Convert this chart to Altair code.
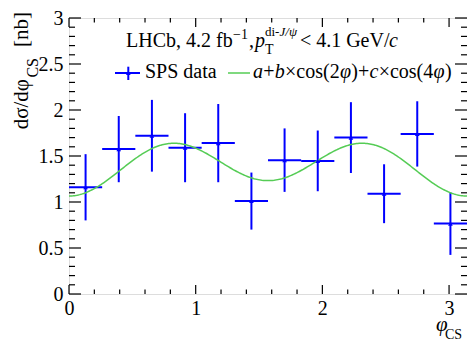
import math
import numpy as np
import pandas as pd
import altair as alt

FONT = "Liberation Serif"
PL, PT = 69, 18          # page position of the plot area's top-left corner
W, H = 398, 276

# ---- data ----
bin_lo = [0.0, 0.2618, 0.5236, 0.7854, 1.0472, 1.3090, 1.5708, 1.8326, 2.0944, 2.3562, 2.6180, 2.8798]
bin_hi = [0.2618, 0.5236, 0.7854, 1.0472, 1.3090, 1.5708, 1.8326, 2.0944, 2.3562, 2.6180, 2.8798, 3.1416]
sps_val = [1.16, 1.575, 1.72, 1.59, 1.64, 1.01, 1.455, 1.447, 1.70, 1.09, 1.74, 0.765]
sps_err = [0.36, 0.36, 0.39, 0.375, 0.425, 0.31, 0.345, 0.33, 0.385, 0.32, 0.355, 0.34]

# fit a + b cos(2phi) + c cos(4phi)
fit_a, fit_b, fit_c = 1.392, -0.0835, -0.243

x_labels = [0, 1, 2, 3]
x_minor = [0.2, 0.4, 0.6, 0.8, 1.2, 1.4, 1.6, 1.8, 2.2, 2.4, 2.6, 2.8]
y_labels = [0, 0.5, 1, 1.5, 2, 2.5, 3]
y_minor = [round(0.1 * i, 1) for i in range(31)]
y_minor = [v for v in y_minor if v not in y_labels]

df = pd.DataFrame({"lo": bin_lo, "hi": bin_hi, "val": sps_val, "err": sps_err})
df["ctr"] = (df["lo"] + df["hi"]) / 2
df["ylo"] = df["val"] - df["err"]
df["yhi"] = df["val"] + df["err"]

phi = np.linspace(0, math.pi, 300)
curve = pd.DataFrame({"phi": phi,
                      "f": fit_a + fit_b * np.cos(2 * phi) + fit_c * np.cos(4 * phi)})

xsc = alt.Scale(domain=[0, math.pi], nice=False, zero=False)
ysc = alt.Scale(domain=[0, 3], nice=False, zero=False)

AX_X = alt.Axis(values=x_labels, ticks=False, domain=False, grid=False,
                labelFont=FONT, labelFontSize=20, labelPadding=4,
                labelColor="black", labelFlush=False, labelOverlap=False, title=None)
AX_Y = alt.Axis(values=y_labels, format="~g", ticks=False, domain=False,
                grid=False, labelFont=FONT, labelFontSize=20,
                labelPadding=6, labelColor="black", labelFlush=False,
                labelOverlap=False, title=None)


def X(f):
    return alt.X(f, scale=xsc, axis=AX_X, title=None)


def Y(f):
    return alt.Y(f, scale=ysc, axis=AX_Y, title=None)


BLUE = "#0000ff"
GREEN = "#55cc55"

base = alt.Chart(df)

hbar = base.mark_rule(color=BLUE, strokeWidth=2).encode(
    x=X("lo:Q"), x2="hi:Q", y=Y("val:Q"))
vbar = base.mark_rule(color=BLUE, strokeWidth=2).encode(
    x=X("ctr:Q"), y=Y("ylo:Q"), y2="yhi:Q")
pts = base.mark_point(shape="triangle-up", filled=True, size=22, color=BLUE,
                      opacity=1).encode(x=X("ctr:Q"), y=Y("val:Q"))
fit = alt.Chart(curve).mark_line(color=GREEN, strokeWidth=1.5).encode(
    x=X("phi:Q"), y=Y("f:Q"))


def tick_layers():
    out = []
    ymaj = pd.DataFrame({"v": y_labels})
    ymin = pd.DataFrame({"v": y_minor})
    xmaj = pd.DataFrame({"v": x_labels})
    xmin = pd.DataFrame({"v": x_minor})
    for d, ln in ((ymaj, 12), (ymin, 6)):
        out.append(alt.Chart(d).mark_rule(color="black", strokeWidth=1.2).encode(
            y=Y("v:Q"), x=alt.value(0), x2=alt.value(ln)))
        out.append(alt.Chart(d).mark_rule(color="black", strokeWidth=1.2).encode(
            y=Y("v:Q"), x=alt.value(W), x2=alt.value(W - ln)))
    for d, ln in ((xmaj, 9), (xmin, 4.5)):
        out.append(alt.Chart(d).mark_rule(color="black", strokeWidth=1.2).encode(
            x=X("v:Q"), y=alt.value(H), y2=alt.value(H - ln)))
        out.append(alt.Chart(d).mark_rule(color="black", strokeWidth=1.2).encode(
            x=X("v:Q"), y=alt.value(0), y2=alt.value(ln)))
    return out


ONE = alt.Data(values=[{"a": 0}])


def txt(s, xp, yp, size=20, italic=False, align="left", angle=0):
    """text at page position (xp, yp) (baseline)"""
    kw = dict(text=s, font=FONT, fontSize=size, align=align, baseline="alphabetic",
              color="black")
    if italic:
        kw["fontStyle"] = "italic"
    if angle:
        kw["angle"] = angle
    return alt.Chart(ONE).mark_text(**kw).encode(x=alt.value(xp - PL), y=alt.value(yp - PT))


def seg(x1, x2, y1, y2, color, sw):
    return alt.Chart(ONE).mark_rule(color=color, strokeWidth=sw).encode(
        x=alt.value(x1 - PL), x2=alt.value(x2 - PL),
        y=alt.value(y1 - PT), y2=alt.value(y2 - PT))


texts = []
# header line
yb = 46.7
texts += [
    txt("LHCb, 4.2 fb", 126, yb),
    txt("\u22121", 233, 39, size=14),
    txt(",", 249, yb),
    txt("p", 255, yb, italic=True),
    txt("T", 265, 54, size=14),
    txt("di-", 265, 36, size=13),
    txt("J/\u03c8", 279.5, 36, size=13, italic=True),
    txt("< 4.1 GeV/", 389.5, yb, align="right"),
    txt("c", 398, yb, italic=True, align="right"),
]
# legend row
yl = 78.3
texts += [
    seg(115, 140, 73, 73, BLUE, 2),
    seg(128.3, 128.3, 66.7, 80, BLUE, 2),
    alt.Chart(ONE).mark_point(shape="triangle-up", filled=True, size=22, color=BLUE,
                              opacity=1).encode(x=alt.value(128.3 - PL), y=alt.value(73 - PT)),
    txt("SPS data", 145, yl),
    seg(228, 250, 73, 73, GREEN, 1.5),
]
pieces = [("a", True), ("+", False), ("b", True), ("\u00d7cos(2", False),
          ("\u03c6", True), (")+", False), ("c", True), ("\u00d7cos(4", False),
          ("\u03c6", True), (")", False)]
widths = {"a": 0.5, "+": 0.564, "b": 0.5, "c": 0.444, "\u00d7": 0.564, "o": 0.5,
          "s": 0.389, "(": 0.333, ")": 0.333, "2": 0.5, "4": 0.5, "\u03c6": 0.56}
xp = 253
for s, it in pieces:
    texts.append(txt(s, xp, yl, italic=it))
    xp += sum(widths.get(ch, 0.5) for ch in s) * 20 + 0.25
# axis titles
texts += [
    txt("\u03c6", 436, 331, size=21, italic=True),
    txt("CS", 445, 338.5, size=14),
    txt("[nb]", 28, 12, size=21, align="right", angle=270),
    txt("CS", 38, 58, size=16, align="right", angle=270),
    txt("d\u03c3/d\u03c6", 28, 79, size=21, align="right", angle=270),
]

chart = alt.layer(hbar, vbar, fit, pts, *tick_layers(), *texts).properties(
    width=W, height=H,
    autosize=alt.AutoSizeParams(type="none"),
    padding={"left": PL - 8, "top": PT - 8, "right": 0, "bottom": 334 - (PT - 8) - H},
).configure_view(stroke="black", strokeWidth=2).configure(background="white")

chart.save("out.html", embed_options={"renderer": "svg", "actions": False})
